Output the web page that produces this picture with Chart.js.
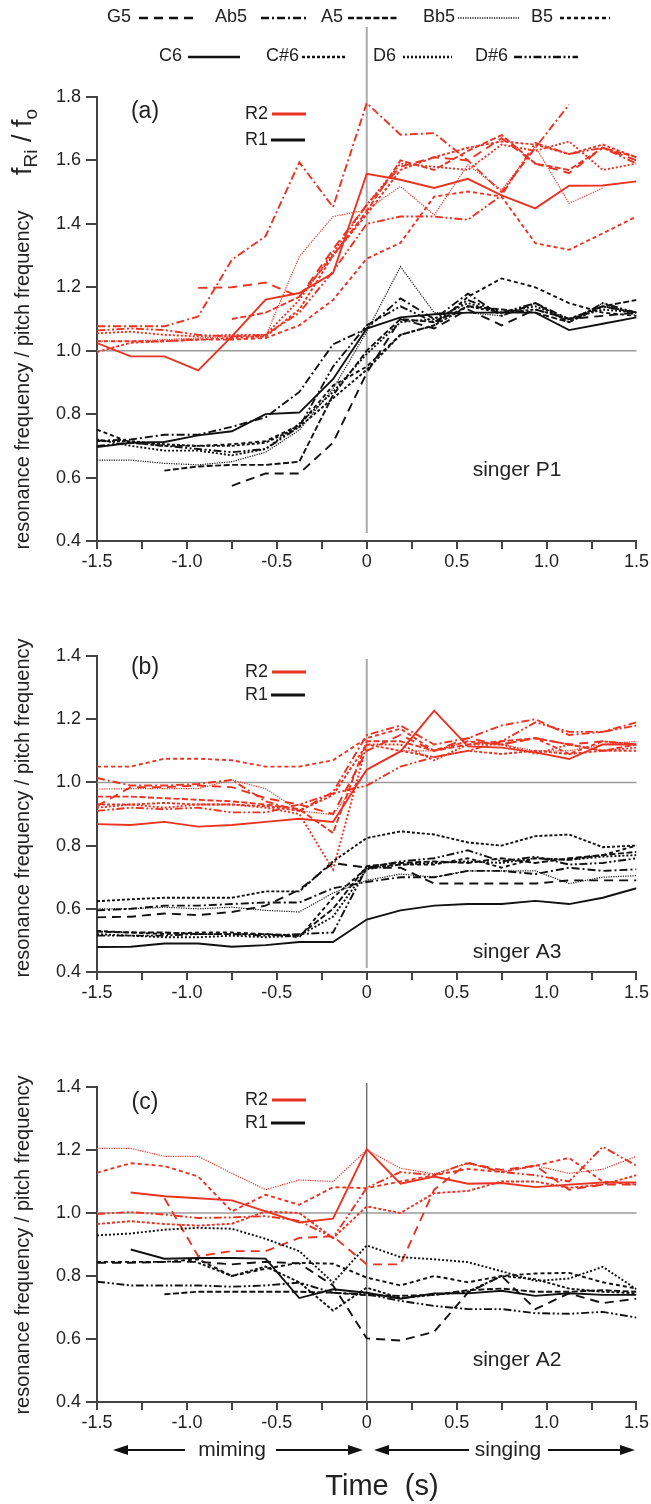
<!DOCTYPE html>
<html>
<head>
<meta charset="utf-8">
<script src="https://cdn.jsdelivr.net/npm/chart.js@4.4.1/dist/chart.umd.min.js"></script>
<style>
  html, body { margin: 0; padding: 0; background: #fff; }
  body { width: 651px; height: 1504px; position: relative; overflow: hidden; }
  canvas { position: absolute; left: 0; }
</style>
</head>
<body>
<canvas id="panelA" width="651" height="600" style="top:0px"></canvas>
<canvas id="panelB" width="651" height="410" style="top:600px"></canvas>
<canvas id="panelC" width="651" height="494" style="top:1010px"></canvas>
<script>
// Time axis (s) relative to the onset of singing
const times = [-1.5, -1.3125, -1.125, -0.9375, -0.75, -0.5625, -0.375, -0.1875, 0,
               0.1875, 0.375, 0.5625, 0.75, 0.9375, 1.125, 1.3125, 1.5];
const notes = ['G5', 'Ab5', 'A5', 'Bb5', 'B5', 'C6', 'C#6', 'D6', 'D#6'];
const xTickLabels = ['-1.5', '-1.0', '-0.5', '0', '0.5', '1.0', '1.5'];

// ---- singer P1 : fR2/f0 ----
const a_R2_G5  = [null, null, null, 1.198, 1.20, 1.215, 1.17, 1.32, 1.46, 1.58, 1.61, 1.60, 1.67, 1.59, 1.56, 1.64, 1.60];
const a_R2_Ab5 = [1.077, 1.077, 1.077, 1.108, 1.287, 1.361, 1.594, 1.453, 1.781, 1.681, 1.686, 1.60, 1.50, 1.64, 1.776, null, null];
const a_R2_A5  = [null, null, null, null, 1.10, 1.12, 1.17, 1.30, 1.44, 1.60, 1.57, 1.63, 1.68, 1.59, 1.57, 1.64, 1.61];
const a_R2_Bb5 = [1.03, 1.03, 1.035, 1.04, 1.045, 1.045, 1.297, 1.423, 1.444, 1.518, 1.428, 1.586, 1.507, 1.644, 1.465, 1.513, null];
const a_R2_B5  = [1.03, 1.03, 1.03, 1.035, 1.035, 1.04, 1.08, 1.16, 1.29, 1.34, 1.486, 1.502, 1.486, 1.339, 1.318, 1.37, 1.423];
const a_R2_C6  = [1.024, 0.982, 0.982, 0.938, 1.045, 1.161, 1.182, 1.245, 1.558, 1.539, 1.513, 1.542, 1.49, 1.449, 1.52, 1.521, 1.534];
const a_R2_Cs6 = [0.996, 1.025, 1.03, 1.035, 1.04, 1.045, 1.13, 1.30, 1.43, 1.57, 1.61, 1.64, 1.66, 1.65, 1.62, 1.65, 1.61];
const a_R2_D6  = [1.055, 1.06, 1.05, 1.045, 1.05, 1.05, 1.16, 1.31, 1.46, 1.59, 1.58, 1.57, 1.65, 1.63, 1.66, 1.57, 1.59];
const a_R2_Ds6 = [1.064, 1.07, 1.065, 1.05, 1.045, 1.05, 1.12, 1.25, 1.40, 1.423, 1.423, 1.413, 1.49, 1.655, 1.62, 1.64, 1.59];
// ---- singer P1 : fR1/f0 ----
const a_R1_G5  = [null, null, null, null, 0.574, 0.613, 0.613, 0.71, 0.93, 1.10, 1.07, 1.13, 1.08, 1.13, 1.10, 1.11, 1.12];
const a_R1_Ab5 = [0.716, 0.72, 0.735, 0.735, 0.76, 0.79, 0.87, 1.02, 1.07, 1.165, 1.10, 1.18, 1.11, 1.15, 1.10, 1.14, 1.12];
const a_R1_A5  = [null, null, 0.622, 0.635, 0.64, 0.64, 0.65, 0.86, 1.0, 1.10, 1.09, 1.14, 1.13, 1.12, 1.09, 1.14, 1.16];
const a_R1_Bb5 = [0.655, 0.655, 0.645, 0.64, 0.65, 0.68, 0.75, 0.88, 1.06, 1.265, 1.12, 1.12, 1.11, 1.15, 1.09, 1.15, 1.11];
const a_R1_B5  = [0.751, 0.71, 0.70, 0.70, 0.705, 0.715, 0.765, 0.89, 0.95, 1.05, 1.08, 1.17, 1.228, 1.20, 1.15, 1.12, 1.11];
const a_R1_C6  = [0.696, 0.71, 0.712, 0.733, 0.746, 0.80, 0.805, 0.91, 1.07, 1.105, 1.115, 1.12, 1.12, 1.12, 1.065, 1.085, 1.105];
const a_R1_Cs6 = [0.715, 0.715, 0.705, 0.70, 0.70, 0.71, 0.76, 0.85, 0.94, 1.05, 1.08, 1.14, 1.12, 1.13, 1.10, 1.14, 1.12];
const a_R1_D6  = [0.72, 0.70, 0.685, 0.685, 0.67, 0.69, 0.77, 0.87, 0.99, 1.09, 1.10, 1.15, 1.12, 1.14, 1.10, 1.13, 1.12];
const a_R1_Ds6 = [0.70, 0.71, 0.70, 0.69, 0.68, 0.69, 0.76, 0.95, 1.08, 1.14, 1.09, 1.16, 1.12, 1.15, 1.09, 1.15, 1.12];

// ---- singer A3 : fR2/f0 ----
const b_R2_G5  = [0.925, 0.985, 0.985, 0.99, 0.985, 0.95, 0.93, 0.90, 1.10, 1.15, 1.10, 1.14, 1.12, 1.14, 1.12, 1.13, 1.12];
const b_R2_Ab5 = [1.014, 0.99, 0.99, 0.995, 1.008, 0.94, 0.91, 0.97, 1.15, 1.18, 1.12, 1.14, 1.18, 1.20, 1.15, 1.16, 1.19];
const b_R2_A5  = [0.955, 0.955, 0.95, 0.945, 0.94, 0.93, 0.915, 0.84, 1.13, 1.13, 1.10, 1.12, 1.13, 1.14, 1.12, 1.10, 1.12];
const b_R2_Bb5 = [0.979, 0.98, 0.98, 0.98, 1.008, 0.98, 0.91, 0.898, 1.04, 1.10, 1.10, 1.13, 1.12, 1.10, 1.10, 1.12, 1.13];
const b_R2_B5  = [1.05, 1.05, 1.075, 1.075, 1.07, 1.05, 1.05, 1.07, 1.14, 1.17, 1.10, 1.13, 1.12, 1.14, 1.09, 1.13, 1.12];
const b_R2_C6  = [0.868, 0.865, 0.875, 0.86, 0.865, 0.875, 0.885, 0.875, 1.04, 1.098, 1.227, 1.114, 1.11, 1.095, 1.074, 1.12, 1.12];
const b_R2_Cs6 = [0.93, 0.93, 0.935, 0.93, 0.93, 0.925, 0.91, 0.96, 1.12, 1.10, 1.08, 1.10, 1.09, 1.10, 1.09, 1.10, 1.10];
const b_R2_D6  = [0.92, 0.93, 0.92, 0.93, 0.93, 0.92, 0.90, 0.724, 1.12, 1.12, 1.07, 1.12, 1.12, 1.09, 1.12, 1.10, 1.11];
const b_R2_Ds6 = [0.91, 0.92, 0.915, 0.92, 0.905, 0.905, 0.93, 0.965, 0.99, 1.05, 1.08, 1.10, 1.13, 1.19, 1.16, 1.16, 1.18];
// ---- singer A3 : fR1/f0 ----
const b_R1_G5  = [0.573, 0.575, 0.585, 0.58, 0.59, 0.61, 0.66, 0.745, 0.73, 0.73, 0.68, 0.68, 0.68, 0.68, 0.69, 0.69, 0.69];
const b_R1_Ab5 = [0.595, 0.60, 0.61, 0.61, 0.615, 0.62, 0.62, 0.665, 0.685, 0.70, 0.70, 0.72, 0.72, 0.71, 0.73, 0.72, 0.725];
const b_R1_A5  = [0.528, 0.525, 0.525, 0.52, 0.52, 0.52, 0.515, 0.60, 0.735, 0.745, 0.75, 0.745, 0.76, 0.745, 0.76, 0.77, 0.78];
const b_R1_Bb5 = [0.60, 0.60, 0.605, 0.60, 0.605, 0.595, 0.59, 0.65, 0.69, 0.71, 0.70, 0.72, 0.72, 0.72, 0.68, 0.70, 0.705];
const b_R1_B5  = [0.53, 0.525, 0.52, 0.525, 0.525, 0.52, 0.51, 0.635, 0.73, 0.74, 0.74, 0.76, 0.73, 0.76, 0.755, 0.77, 0.80];
const b_R1_C6  = [0.479, 0.48, 0.49, 0.49, 0.48, 0.485, 0.495, 0.495, 0.566, 0.595, 0.61, 0.615, 0.615, 0.625, 0.615, 0.635, 0.665];
const b_R1_Cs6 = [0.624, 0.63, 0.635, 0.635, 0.635, 0.655, 0.655, 0.75, 0.824, 0.845, 0.835, 0.81, 0.80, 0.83, 0.835, 0.795, 0.80];
const b_R1_D6  = [0.52, 0.515, 0.51, 0.51, 0.515, 0.51, 0.515, 0.575, 0.725, 0.74, 0.745, 0.75, 0.745, 0.76, 0.755, 0.765, 0.77];
const b_R1_Ds6 = [0.515, 0.515, 0.515, 0.52, 0.52, 0.515, 0.52, 0.525, 0.73, 0.75, 0.76, 0.785, 0.75, 0.765, 0.74, 0.745, 0.76];

// ---- singer A2 : fR2/f0 ----
const c_R2_G5  = [null, null, 1.047, 0.863, 0.879, 0.879, 0.921, 0.926, 0.837, 0.837, 1.074, 1.158, 1.137, 1.15, 1.074, 1.09, 1.09];
const c_R2_Bb5 = [1.205, 1.205, 1.18, 1.18, 1.126, 1.074, 1.105, 1.10, 1.20, 1.142, 1.124, 1.158, 1.13, 1.15, 1.126, 1.139, 1.18];
const c_R2_B5  = [1.128, 1.158, 1.149, 1.116, 1.005, 1.058, 1.026, 1.082, 1.079, 1.10, 1.12, 1.14, 1.13, 1.15, 1.175, 1.10, 1.09];
const c_R2_C6  = [null, 1.065, 1.053, 1.047, 1.04, 1.005, 0.97, 0.982, 1.203, 1.093, 1.116, 1.093, 1.095, 1.082, 1.09, 1.097, 1.097];
const c_R2_Cs6 = [0.965, 0.974, 0.965, 0.96, 0.966, 1.005, 1.0, 0.92, 1.021, 1.0, 1.063, 1.07, 1.10, 1.10, 1.08, 1.09, 1.12];
const c_R2_Ds6 = [0.997, 1.003, 0.995, 0.984, 0.986, 0.99, 0.975, 0.921, 1.08, 1.13, 1.12, 1.16, 1.13, 1.12, 1.10, 1.21, 1.15];
// ---- singer A2 : fR1/f0 ----
const c_R1_G5  = [0.842, 0.842, 0.845, 0.845, 0.837, 0.845, 0.84, 0.77, 0.602, 0.595, 0.623, 0.747, 0.80, 0.695, 0.745, 0.714, 0.728];
const c_R1_A5  = [null, null, 0.742, 0.75, 0.75, 0.75, 0.75, 0.747, 0.739, 0.737, 0.74, 0.755, 0.76, 0.75, 0.75, 0.755, 0.75];
const c_R1_B5  = [0.845, 0.845, 0.845, 0.853, 0.80, 0.823, 0.842, 0.839, 0.795, 0.77, 0.80, 0.78, 0.80, 0.808, 0.81, 0.78, 0.76];
const c_R1_C6  = [null, 0.884, 0.855, 0.857, 0.857, 0.855, 0.73, 0.758, 0.747, 0.728, 0.745, 0.745, 0.753, 0.737, 0.745, 0.74, 0.74];
const c_R1_Cs6 = [null, null, null, 0.842, 0.80, 0.83, 0.78, 0.69, 0.763, 0.73, 0.74, 0.75, 0.80, 0.79, 0.76, 0.75, 0.745];
const c_R1_D6  = [0.929, 0.935, 0.947, 0.953, 0.95, 0.918, 0.879, 0.779, 0.897, 0.86, 0.853, 0.844, 0.815, 0.784, 0.792, 0.829, 0.758];
const c_R1_Ds6 = [0.782, 0.77, 0.77, 0.77, 0.766, 0.77, 0.779, 0.747, 0.742, 0.721, 0.705, 0.695, 0.695, 0.682, 0.68, 0.686, 0.668];

// ---- styling ----
const FONT = "'Liberation Sans', Arial, sans-serif";
const RED = '#eb3323';
const BLACK = '#111111';
const AXIS = '#444444';
const TEXT = '#222222';
const dashes = {
  'G5': [9, 6], 'Ab5': [8, 3, 2, 3], 'A5': [6, 2.5], 'Bb5': [1.2, 1.2], 'B5': [4, 3],
  'C6': [], 'C#6': [3, 2], 'D6': [2, 2], 'D#6': [8, 2.5, 2, 2.5, 2, 2.5]
};
const widths = { 'Bb5': 1.2 };
const AREA_LEFT = 97, AREA_RIGHT = 640, X_AXIS_H = 40;

function xLabel(v) {
  const k = Math.round((v + 1.5) * 2);
  return Math.abs((v + 1.5) * 2 - k) < 1e-6 ? xTickLabels[k] : '';
}

function arrow(ctx, from, to, y) {
  const d = Math.sign(to - from);
  ctx.beginPath(); ctx.moveTo(from, y); ctx.lineTo(to - d * 10, y); ctx.stroke();
  ctx.beginPath(); ctx.moveTo(to, y); ctx.lineTo(to - d * 15, y - 5); ctx.lineTo(to - d * 15, y + 5);
  ctx.closePath(); ctx.fill();
}

function legendSample(ctx, x1, x2, y, note) {
  ctx.save();
  ctx.strokeStyle = BLACK; ctx.lineWidth = note === 'Bb5' ? 1.6 : 2.6;
  ctx.setLineDash(dashes[note]);
  ctx.beginPath(); ctx.moveTo(x1, y); ctx.lineTo(x2, y); ctx.stroke();
  ctx.restore();
}

function text(ctx, s, x, y, size, align) {
  ctx.font = `${size}px ${FONT}`; ctx.fillStyle = TEXT;
  ctx.textAlign = align || 'left'; ctx.textBaseline = 'middle';
  ctx.fillText(s, x, y);
}

function rotatedText(ctx, s, cx, cy, size) {
  ctx.save(); ctx.translate(cx, cy); ctx.rotate(-Math.PI / 2);
  text(ctx, s, 0, 0, size, 'center');
  ctx.restore();
}

function ratioLabel(ctx, cx, cy) {
  ctx.save(); ctx.translate(cx, cy); ctx.rotate(-Math.PI / 2);
  const big = `27px ${FONT}`, small = `19px ${FONT}`;
  const parts = [['f', big, 0], ['Ri', small, 6], [' / ', big, 0], ['f', big, 0], ['o', small, 6]];
  let w = 0;
  parts.forEach(p => { ctx.font = p[1]; w += ctx.measureText(p[0]).width; });
  let x = -w / 2;
  ctx.fillStyle = TEXT; ctx.textBaseline = 'alphabetic'; ctx.textAlign = 'left';
  parts.forEach(p => { ctx.font = p[1]; ctx.fillText(p[0], x, 9 + p[2]); x += ctx.measureText(p[0]).width; });
  ctx.restore();
}

function decorations(cfg) {
  return {
    id: 'decorations',
    beforeDatasetsDraw(chart) {
      const { ctx, chartArea: a, scales: { x, y } } = chart;
      const x0 = x.getPixelForValue(0), y1 = y.getPixelForValue(1);
      ctx.save();
      ctx.strokeStyle = '#9a9a9a'; ctx.lineWidth = 1.5;
      ctx.beginPath(); ctx.moveTo(a.left, y1); ctx.lineTo(a.right, y1); ctx.stroke();
      ctx.strokeStyle = cfg.vColor; ctx.lineWidth = cfg.vWidth;
      ctx.beginPath(); ctx.moveTo(x0, a.top + cfg.vTop); ctx.lineTo(x0, a.bottom + cfg.vBottom); ctx.stroke();
      ctx.restore();
    },
    afterDraw(chart) {
      const ctx = chart.ctx;
      ctx.save();
      // panel letter, resonance key, singer
      text(ctx, cfg.letter, 145, cfg.letterY, 23, 'center');
      text(ctx, 'R2', 245, cfg.r2Y, 18);
      text(ctx, 'R1', 245, cfg.r1Y, 18);
      ctx.lineWidth = 3;
      ctx.strokeStyle = RED; ctx.beginPath(); ctx.moveTo(272, cfg.r2Y); ctx.lineTo(306, cfg.r2Y); ctx.stroke();
      ctx.strokeStyle = BLACK; ctx.beginPath(); ctx.moveTo(271, cfg.r1Y); ctx.lineTo(305, cfg.r1Y); ctx.stroke();
      text(ctx, cfg.singer, 517, cfg.singerY, 21, 'center');
      rotatedText(ctx, 'resonance frequency / pitch frequency', 23, cfg.titleY, 20);
      if (cfg.extra) cfg.extra(ctx, chart);
      ctx.restore();
    }
  };
}

function buildPanel(id, cfg) {
  const canvas = document.getElementById(id);
  const H = canvas.height;
  const datasets = [];
  ['R1', 'R2'].forEach(r => {
    notes.forEach(n => {
      const vals = cfg.series[r][n];
      if (!vals) return;
      datasets.push({
        label: r + ' ' + n,
        data: times.map((t, i) => ({ x: t, y: vals[i] })),
        borderColor: r === 'R2' ? RED : BLACK,
        borderWidth: widths[n] || 1.9,
        borderDash: dashes[n],
        pointRadius: 0, tension: 0, spanGaps: false, fill: false
      });
    });
  });
  const gridCommon = { drawOnChartArea: false, drawTicks: true, color: AXIS, lineWidth: 2 };
  return new Chart(canvas, {
    type: 'line',
    data: { datasets },
    options: {
      responsive: false, animation: false, events: [],
      layout: { autoPadding: false, padding: { left: 0, right: 651 - AREA_RIGHT, top: cfg.top, bottom: H - cfg.bottom - X_AXIS_H } },
      plugins: { legend: { display: false }, tooltip: { enabled: false } },
      scales: {
        x: {
          type: 'linear', min: -1.5, max: 1.5,
          afterFit(s) { s.height = X_AXIS_H; },
          ticks: { stepSize: 0.25, autoSkip: false, maxRotation: 0, padding: 2, color: TEXT,
                   font: { family: FONT, size: 18 }, callback: v => xLabel(v) },
          grid: Object.assign({ tickLength: 8 }, gridCommon),
          border: { display: true, color: AXIS, width: 2 }
        },
        y: {
          min: 0.4, max: cfg.yMax,
          afterFit(s) { s.width = AREA_LEFT; },
          ticks: { stepSize: 0.2, padding: 5, color: TEXT, font: { family: FONT, size: 18 },
                   callback: v => v.toFixed(1) },
          grid: Object.assign({ tickLength: 11 }, gridCommon),
          border: { display: true, color: AXIS, width: 2 }
        }
      }
    },
    plugins: [decorations(cfg)]
  });
}

// (a) singer P1, with note key across the top
buildPanel('panelA', {
  top: 97, bottom: 541, yMax: 1.8,
  series: {
    R2: { 'G5': a_R2_G5, 'Ab5': a_R2_Ab5, 'A5': a_R2_A5, 'Bb5': a_R2_Bb5, 'B5': a_R2_B5, 'C6': a_R2_C6, 'C#6': a_R2_Cs6, 'D6': a_R2_D6, 'D#6': a_R2_Ds6 },
    R1: { 'G5': a_R1_G5, 'Ab5': a_R1_Ab5, 'A5': a_R1_A5, 'Bb5': a_R1_Bb5, 'B5': a_R1_B5, 'C6': a_R1_C6, 'C#6': a_R1_Cs6, 'D6': a_R1_D6, 'D#6': a_R1_Ds6 }
  },
  vColor: '#aaaaaa', vWidth: 2, vTop: -70, vBottom: -8,
  letter: '(a)', letterY: 112, r2Y: 114, r1Y: 140, singer: 'singer P1', singerY: 470, titleY: 380,
  extra(ctx) {
    ratioLabel(ctx, 22, 142);
    const row1 = [['G5', 107, 139, 193], ['Ab5', 215, 261, 309], ['A5', 321, 348, 399], ['Bb5', 423, 458, 519], ['B5', 531, 560, 610]];
    const row2 = [['C6', 159, 188, 240], ['C#6', 266, 302, 347], ['D6', 373, 403, 452], ['D#6', 475, 514, 578]];
    row1.forEach(([n, tx, x1, x2]) => { text(ctx, n, tx, 17, 18); legendSample(ctx, x1, x2, 18, n); });
    row2.forEach(([n, tx, x1, x2]) => { text(ctx, n, tx, 56, 18); legendSample(ctx, x1, x2, 57, n); });
  }
});

// (b) singer A3
buildPanel('panelB', {
  top: 56, bottom: 372, yMax: 1.4,
  series: {
    R2: { 'G5': b_R2_G5, 'Ab5': b_R2_Ab5, 'A5': b_R2_A5, 'Bb5': b_R2_Bb5, 'B5': b_R2_B5, 'C6': b_R2_C6, 'C#6': b_R2_Cs6, 'D6': b_R2_D6, 'D#6': b_R2_Ds6 },
    R1: { 'G5': b_R1_G5, 'Ab5': b_R1_Ab5, 'A5': b_R1_A5, 'Bb5': b_R1_Bb5, 'B5': b_R1_B5, 'C6': b_R1_C6, 'C#6': b_R1_Cs6, 'D6': b_R1_D6, 'D#6': b_R1_Ds6 }
  },
  vColor: '#aaaaaa', vWidth: 2, vTop: 3, vBottom: -4,
  letter: '(b)', letterY: 68, r2Y: 72, r1Y: 95, singer: 'singer A3', singerY: 352, titleY: 208
});

// (c) singer A2, with time axis annotations
buildPanel('panelC', {
  top: 77, bottom: 392, yMax: 1.4,
  series: {
    R2: { 'G5': c_R2_G5, 'Bb5': c_R2_Bb5, 'B5': c_R2_B5, 'C6': c_R2_C6, 'C#6': c_R2_Cs6, 'D#6': c_R2_Ds6 },
    R1: { 'G5': c_R1_G5, 'A5': c_R1_A5, 'B5': c_R1_B5, 'C6': c_R1_C6, 'C#6': c_R1_Cs6, 'D6': c_R1_D6, 'D#6': c_R1_Ds6 }
  },
  vColor: '#555555', vWidth: 1.2, vTop: -4, vBottom: 0,
  letter: '(c)', letterY: 93, r2Y: 90, r1Y: 113, singer: 'singer A2', singerY: 350, titleY: 235,
  extra(ctx) {
    ctx.strokeStyle = '#111'; ctx.fillStyle = '#111'; ctx.lineWidth = 2;
    arrow(ctx, 185, 113, 440); arrow(ctx, 276, 363, 440);
    arrow(ctx, 469, 374, 440); arrow(ctx, 548, 635, 440);
    text(ctx, 'miming', 232, 440, 21, 'center');
    text(ctx, 'singing', 508, 440, 21, 'center');
    text(ctx, 'Time  (s)', 382, 477, 29, 'center');
  }
});
</script>
</body>
</html>
